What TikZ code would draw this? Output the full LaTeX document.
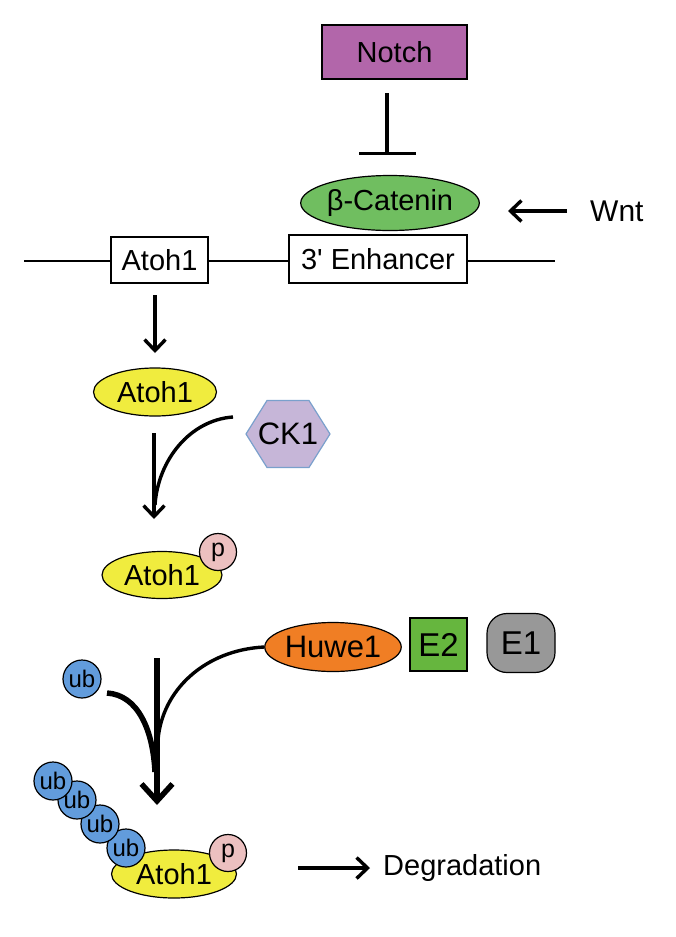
\documentclass[tikz,border=0pt]{standalone}
\usepackage{fontspec}
\setmainfont{Liberation Sans}
\usetikzlibrary{arrows.meta}
\usetikzlibrary{shapes.geometric}
\definecolor{notchpurple}{RGB}{178,102,170}
\definecolor{catgreen}{RGB}{112,190,96}
\definecolor{atohyellow}{RGB}{240,236,62}
\definecolor{ckfill}{RGB}{198,182,216}
\definecolor{ckedge}{RGB}{122,160,204}
\definecolor{ppink}{RGB}{236,192,192}
\definecolor{ubblue}{RGB}{98,156,220}
\definecolor{huweorange}{RGB}{240,126,36}
\definecolor{etwogreen}{RGB}{102,182,62}
\definecolor{eonegray}{RGB}{152,152,152}
\tikzset{gene/.style = {draw, line width = 1.3pt, rectangle, inner sep = 0, font = \fontsize{29}{31}\selectfont}}
\tikzset{prot/.style = {draw, ellipse, line width = 1.2pt, inner sep = 0}}
\tikzset{ubq/.style = {draw, circle, line width = 1.2pt, fill = ubblue, minimum size = 38pt, inner sep = 0, font = \fontsize{24}{25}\selectfont}}
\tikzset{phos/.style = {draw, circle, line width = 1.2pt, fill = ppink, minimum size = 37pt, inner sep = 0, font = \fontsize{25}{26}\selectfont}}
\tikzset{arr/.style = {line width = 3.4pt, -{Straight Barb[length = 11pt, width = 21pt]}}}
\tikzset{bigarr/.style = {line width = 5.5pt, -{Straight Barb[length = 17pt, width = 31pt]}}}

\begin{document}
\begin{tikzpicture}[x = 1pt, y = -1pt]
    \useasboundingbox (0, 0) rectangle (676, 937);

    \node [gene, fill = notchpurple, minimum width = 145pt, minimum height = 54pt] (notch) at (394.5, 52) {Notch};
    \coordinate (inhA) at (387, 93);
    \coordinate (inhB) at (387, 155);
    \draw [line width = 3.4pt, -{Bar[width = 57pt]}] (inhA) -- (inhB);
    \node [prot, fill = catgreen, minimum width = 159pt, minimum height = 55pt, font = \fontsize{29}{31}\selectfont] (cat) at (390, 203) {β-Catenin};
    \node [anchor = west, font = \fontsize{30}{32}\selectfont, inner sep = 0] (wnt) at (590, 211) {Wnt};
    \coordinate (wntA) at (567, 211);
    \coordinate (wntB) at (508, 211);
    \draw [arr] (wntA) -- (wntB);

    \node [gene, fill = white, minimum width = 97pt, minimum height = 46pt] (atohG) at (159.5, 260) {Atoh1};
    \node [gene, fill = white, minimum width = 178pt, minimum height = 48pt] (enh) at (378, 259) {3\textquotesingle\ Enhancer};
    \coordinate (dnaL) at (24, 261);
    \coordinate (dnaR) at (555, 261);
    \draw [line width = 1.3pt] (dnaL) -- (dnaL -| atohG.west);
    \draw [line width = 1.3pt] (atohG.east |- dnaL) -- (enh.west |- dnaL);
    \draw [line width = 1.3pt] (enh.east |- dnaR) -- (dnaR);

    \coordinate (gA) at (155, 295);
    \coordinate (gB) at (155, 353);
    \draw [arr] (gA) -- (gB);
    \node [prot, fill = atohyellow, minimum width = 123pt, minimum height = 48pt, font = \fontsize{29}{31}\selectfont] (atohA) at (155, 392) {Atoh1};

    \draw [draw = ckedge, fill = ckfill, line width = 1.2pt] (246, 434) -- (267, 400.5) -- (309, 400.5) -- (330, 434) -- (309, 467.5) -- (267, 467.5) -- cycle;
    \node [font = \fontsize{31}{33}\selectfont, inner sep = 0] (ck1) at (288, 434) {CK1};
    \coordinate (pA) at (154, 433);
    \coordinate (pB) at (154, 519);
    \coordinate (ckin) at (233, 417);
    \draw [arr] (pA) -- (pB);
    \draw [line width = 3.4pt] (ckin) .. controls (190, 420) and (158, 460) .. (155, 505);

    \node [prot, fill = atohyellow, minimum width = 120pt, minimum height = 47pt, font = \fontsize{29}{31}\selectfont] (atohP) at (162, 575) {Atoh1};
    \node [phos] (p1) at (218, 552) {p};

    \node [prot, fill = huweorange, minimum width = 121pt, minimum height = 49pt, font = \fontsize{31}{33}\selectfont] (huwe) at (333, 647) {Huwe1};
    \node [draw, line width = 1.2pt, fill = etwogreen, minimum width = 57pt, minimum height = 53pt, inner sep = 0, font = \fontsize{33}{35}\selectfont] (etwo) at (438.5, 644.5) {E2};
    \node [draw, line width = 1.2pt, fill = eonegray, rounded corners = 20pt, minimum width = 68pt, minimum height = 59pt, inner sep = 0, font = \fontsize{33}{35}\selectfont] (eone) at (521, 643) {E1};

    \node [ubq] (ub0) at (82, 679) {ub};
    \coordinate (uA) at (157, 658);
    \coordinate (uB) at (157, 805);
    \coordinate (ubin) at (107, 693);
    \draw [bigarr] (uA) -- (uB);
    \draw [line width = 3.4pt] (huwe.west) .. controls (205, 650) and (162, 690) .. (158, 740);
    \draw [line width = 5.5pt] (ubin) .. controls (138, 695) and (153, 730) .. (155, 772);

    \node [prot, fill = atohyellow, minimum width = 125pt, minimum height = 48pt, font = \fontsize{29}{31}\selectfont] (atohU) at (174, 874) {Atoh1};
    \node [phos] (p2) at (228, 853) {p};
    \node [ubq] (ub4) at (126, 848) {ub};
    \node [ubq] (ub3) at (100, 824) {ub};
    \node [ubq] (ub2) at (77, 800) {ub};
    \node [ubq] (ub1) at (53, 781) {ub};

    \coordinate (degA) at (298, 868);
    \coordinate (degB) at (370, 868);
    \draw [arr] (degA) -- (degB);
    \node [anchor = west, font = \fontsize{29}{31}\selectfont, inner sep = 0] (deg) at (383, 868) {Degradation};
  \end{tikzpicture}
\end{document}
